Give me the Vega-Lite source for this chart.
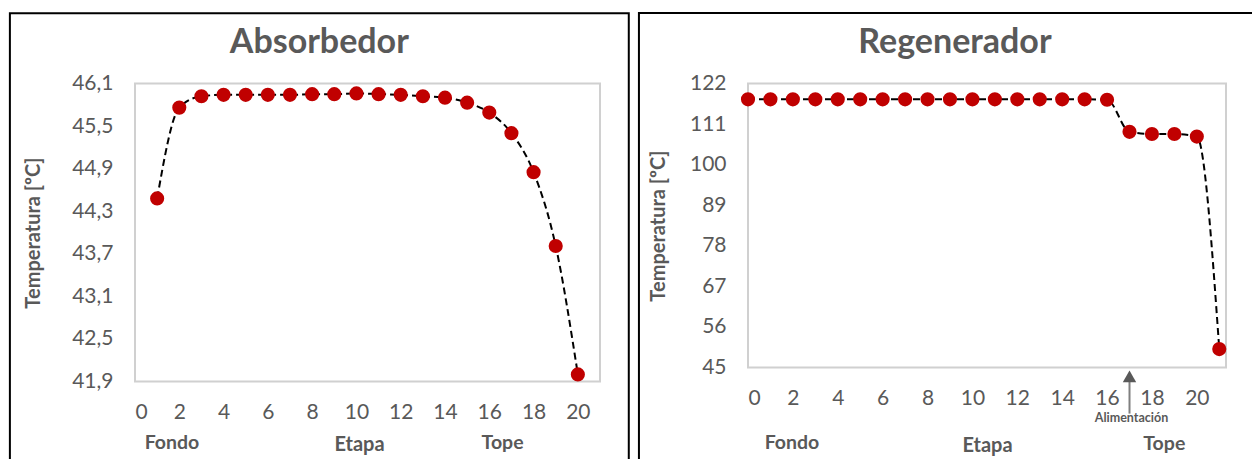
{
  "$schema": "https://vega.github.io/schema/vega-lite/v6.json",
  "background": "white",
  "padding": {"left": 7, "top": 10.5, "right": 0, "bottom": 0},
  "spacing": 5,
  "config": {
    "font": "Lato",
    "view": {"stroke": "#d0d0d0", "strokeWidth": 2},
    "axis": {"gridColor": "#d9d9d9", "gridWidth": 1.5, "ticks": false, "domain": false, "labelColor": "#595959", "labelFontSize": 21, "labelFont": "Lato", "titleColor": "#595959", "titleFontWeight": "bold", "titleFont": "Lato"},
    "title": {"fontSize": 34, "fontWeight": "bold", "color": "#595959", "anchor": "middle", "frame": "bounds", "font": "Lato"}
  },
  "datasets": {
    "abs": [
      {"etapa": 1, "temp": 44.48}, {"etapa": 2, "temp": 45.76}, {"etapa": 3, "temp": 45.92}, {"etapa": 4, "temp": 45.94},
      {"etapa": 5, "temp": 45.94}, {"etapa": 6, "temp": 45.94}, {"etapa": 7, "temp": 45.94}, {"etapa": 8, "temp": 45.95},
      {"etapa": 9, "temp": 45.95}, {"etapa": 10, "temp": 45.96}, {"etapa": 11, "temp": 45.95}, {"etapa": 12, "temp": 45.94},
      {"etapa": 13, "temp": 45.92}, {"etapa": 14, "temp": 45.9}, {"etapa": 15, "temp": 45.83}, {"etapa": 16, "temp": 45.69},
      {"etapa": 17, "temp": 45.4}, {"etapa": 18, "temp": 44.85}, {"etapa": 19, "temp": 43.81}, {"etapa": 20, "temp": 42.0}
    ],
    "reg": [
      {"etapa": 0, "temp": 117.7}, {"etapa": 1, "temp": 117.7}, {"etapa": 2, "temp": 117.7}, {"etapa": 3, "temp": 117.7},
      {"etapa": 4, "temp": 117.7}, {"etapa": 5, "temp": 117.7}, {"etapa": 6, "temp": 117.7}, {"etapa": 7, "temp": 117.7},
      {"etapa": 8, "temp": 117.7}, {"etapa": 9, "temp": 117.7}, {"etapa": 10, "temp": 117.7}, {"etapa": 11, "temp": 117.7},
      {"etapa": 12, "temp": 117.7}, {"etapa": 13, "temp": 117.7}, {"etapa": 14, "temp": 117.7}, {"etapa": 15, "temp": 117.7},
      {"etapa": 16, "temp": 117.6}, {"etapa": 17, "temp": 108.9}, {"etapa": 18, "temp": 108.3}, {"etapa": 19, "temp": 108.3},
      {"etapa": 20, "temp": 107.6}, {"etapa": 21, "temp": 50.0}
    ],
    "absLbl": [
      {"x": 1.67, "y": 41.04, "label": "Fondo"},
      {"x": 16.6, "y": 41.04, "label": "Tope"}
    ],
    "regLbl": [
      {"x": 1.96, "y": 24.4, "label": "Fondo"},
      {"x": 18.55, "y": 24.2, "label": "Tope"}
    ],
    "regFeed": [
      {"x": 17, "y1": 32.5, "y2": 41.5, "ytri": 42.6, "ytxt": 31.2, "label": "Alimentación"}
    ]
  },
  "hconcat": [
    {
      "width": 465,
      "height": 298,
      "title": {"text": "Absorbedor", "offset": -48, "dx": 0},
      "layer": [
        {
          "data": {"values": [{}]},
          "mark": {"type": "rect", "fill": "transparent", "stroke": "black", "strokeWidth": 2},
          "encoding": {
            "x": {"datum": -5.65, "type": "quantitative"},
            "x2": {"datum": 22.3},
            "y": {"datum": 47.09, "type": "quantitative"},
            "y2": {"datum": 40.55}
          }
        },
        {
          "data": {"name": "abs"},
          "mark": {"type": "line", "interpolate": "monotone", "color": "black", "strokeDash": [7, 4], "strokeWidth": 2},
          "encoding": {
            "x": {"field": "etapa", "type": "quantitative", "scale": {"domain": [0, 21], "nice": false},
              "axis": {"values": [0, 2, 4, 6, 8, 10, 12, 14, 16, 18, 20], "title": "Etapa", "titleFontSize": 20, "labelPadding": 20, "titlePadding": 12, "titleX": 224}},
            "y": {"field": "temp", "type": "quantitative", "scale": {"domain": [41.9, 46.1], "nice": false, "zero": false},
              "axis": {"values": [41.9, 42.5, 43.1, 43.7, 44.3, 44.9, 45.5, 46.1], "labelExpr": "replace(format(datum.value, '.1f'), '.', ',')", "title": "Temperatura [ºC]", "titleFontSize": 20, "labelPadding": 22, "titlePadding": 28}}
          }
        },
        {
          "data": {"name": "abs"},
          "mark": {"type": "circle", "size": 200, "color": "#c00000", "opacity": 1},
          "encoding": {
            "x": {"field": "etapa", "type": "quantitative"},
            "y": {"field": "temp", "type": "quantitative"}
          }
        },
        {
          "data": {"name": "absLbl"},
          "mark": {"type": "text", "fontSize": 19.5, "fontWeight": "bold", "color": "#595959", "baseline": "middle"},
          "encoding": {
            "x": {"field": "x", "type": "quantitative"},
            "y": {"field": "y", "type": "quantitative"},
            "text": {"field": "label"}
          }
        }
      ]
    },
    {
      "width": 478,
      "height": 284,
      "title": {"text": "Regenerador", "offset": -48, "dx": 5},
      "layer": [
        {
          "data": {"values": [{}]},
          "mark": {"type": "rect", "fill": "transparent", "stroke": "black", "strokeWidth": 2},
          "encoding": {
            "x": {"datum": -4.86, "type": "quantitative"},
            "x2": {"datum": 22.86},
            "y": {"datum": 141.1, "type": "quantitative"},
            "y2": {"datum": 17.0}
          }
        },
        {
          "data": {"name": "reg"},
          "mark": {"type": "line", "interpolate": "monotone", "color": "black", "strokeDash": [7, 4], "strokeWidth": 2},
          "encoding": {
            "x": {"field": "etapa", "type": "quantitative", "scale": {"domain": [0, 21.3], "nice": false},
              "axis": {"values": [0, 2, 4, 6, 8, 10, 12, 14, 16, 18, 20], "title": "Etapa", "titleFontSize": 20, "labelPadding": 20, "titlePadding": 27}},
            "y": {"field": "temp", "type": "quantitative", "scale": {"domain": [45, 122], "nice": false, "zero": false},
              "axis": {"values": [45, 56, 67, 78, 89, 100, 111, 122], "title": "Temperatura [ºC]", "titleFontSize": 20, "labelPadding": 22, "titlePadding": 21}}
          }
        },
        {
          "data": {"name": "reg"},
          "mark": {"type": "circle", "size": 200, "color": "#c00000", "opacity": 1},
          "encoding": {
            "x": {"field": "etapa", "type": "quantitative"},
            "y": {"field": "temp", "type": "quantitative"}
          }
        },
        {
          "data": {"name": "regLbl"},
          "mark": {"type": "text", "fontSize": 19.5, "fontWeight": "bold", "color": "#595959", "baseline": "middle"},
          "encoding": {
            "x": {"field": "x", "type": "quantitative"},
            "y": {"field": "y", "type": "quantitative"},
            "text": {"field": "label"}
          }
        },
        {
          "data": {"name": "regFeed"},
          "mark": {"type": "rule", "color": "#7f7f7f", "strokeWidth": 2},
          "encoding": {
            "x": {"field": "x", "type": "quantitative"},
            "y": {"field": "y1", "type": "quantitative"},
            "y2": {"field": "y2"}
          }
        },
        {
          "data": {"name": "regFeed"},
          "mark": {"type": "point", "shape": "triangle-up", "filled": true, "size": 180, "color": "#595959", "opacity": 1},
          "encoding": {
            "x": {"field": "x", "type": "quantitative"},
            "y": {"field": "ytri", "type": "quantitative"}
          }
        },
        {
          "data": {"name": "regFeed"},
          "mark": {"type": "text", "fontSize": 12.5, "fontWeight": "bold", "color": "#595959", "baseline": "middle", "dx": 2},
          "encoding": {
            "x": {"field": "x", "type": "quantitative"},
            "y": {"field": "ytxt", "type": "quantitative"},
            "text": {"field": "label"}
          }
        }
      ]
    }
  ]
}
